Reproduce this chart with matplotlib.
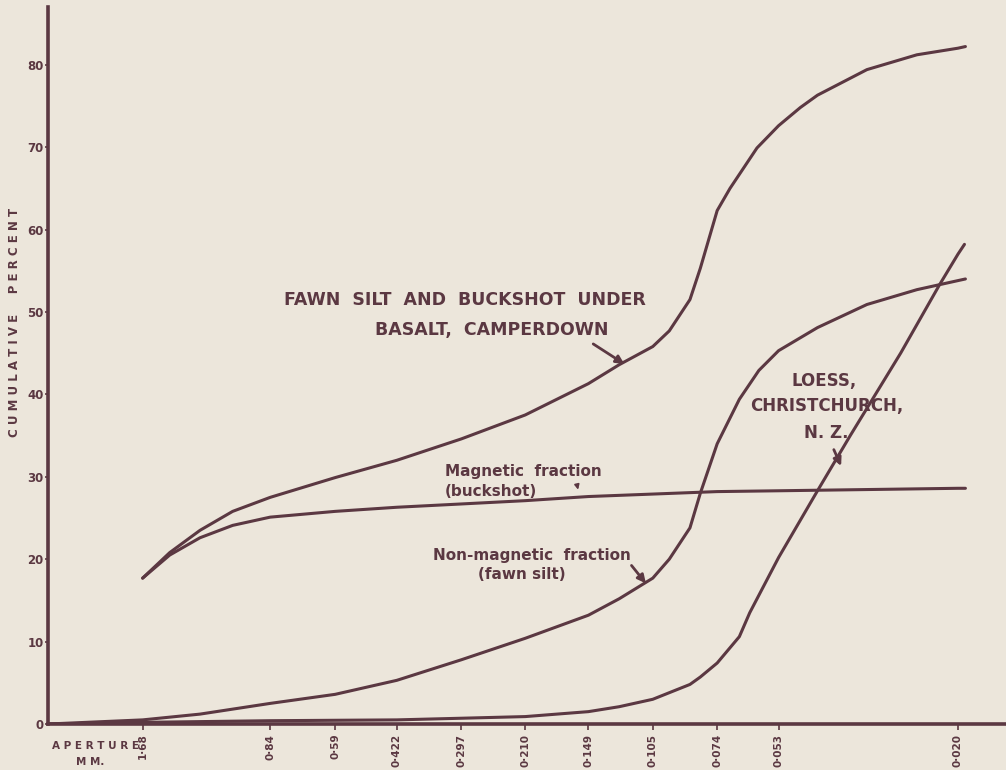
import matplotlib
matplotlib.use("Agg")
import matplotlib.pyplot as plt

# sieve apertures (mm) shown on the x axis
tick_apertures = [1.68, 0.84, 0.59, 0.422, 0.297, 0.210, 0.149, 0.105, 0.074, 0.053, 0.020]
tick_labels = ["1·68", "0·84", "0·59", "0·422", "0·297", "0·210", "0·149", "0·105", "0·074", "0·053", "0·020"]

# fawn silt and buckshot under basalt, Camperdown
fawn_x = [1.68, 1.45, 1.23, 1.03, 0.84, 0.59, 0.422, 0.297, 0.210, 0.149, 0.126, 0.105,
          0.096, 0.0858, 0.0811, 0.074, 0.0690, 0.0596, 0.053, 0.0471, 0.0429, 0.0328,
          0.025, 0.020, 0.0192]
fawn_y = [17.7, 20.8, 23.5, 25.8, 27.5, 29.9, 32.0, 34.6, 37.5, 41.3, 43.6, 45.8,
          47.7, 51.5, 55.3, 62.3, 65.0, 69.9, 72.6, 74.8, 76.3, 79.4,
          81.2, 82.0, 82.2]

# magnetic fraction (buckshot)
mag_x = [1.68, 1.45, 1.23, 1.03, 0.84, 0.59, 0.422, 0.297, 0.210, 0.149, 0.105, 0.074, 0.053, 0.020, 0.0192]
mag_y = [17.7, 20.5, 22.6, 24.1, 25.1, 25.8, 26.3, 26.7, 27.1, 27.6, 27.9, 28.2, 28.3, 28.6, 28.6]

# non-magnetic fraction (fawn silt)
nonmag_x = [2.8, 1.68, 1.23, 0.84, 0.59, 0.422, 0.297, 0.210, 0.149, 0.126, 0.105, 0.096,
            0.0858, 0.0811, 0.074, 0.0656, 0.0590, 0.053, 0.0429, 0.0328, 0.025, 0.020, 0.0192]
nonmag_y = [0.0, 0.5, 1.2, 2.5, 3.6, 5.3, 7.8, 10.4, 13.2, 15.2, 17.7, 20.0,
            23.8, 28.0, 34.0, 39.4, 42.9, 45.3, 48.1, 50.9, 52.7, 53.8, 54.0]

# loess, Christchurch, N.Z.
loess_x = [2.8, 1.68, 0.84, 0.422, 0.297, 0.210, 0.149, 0.126, 0.105, 0.0858, 0.0811,
           0.074, 0.0656, 0.062, 0.053, 0.0429, 0.0359, 0.0273, 0.0221, 0.020, 0.0193]
loess_y = [0.0, 0.2, 0.4, 0.5, 0.7, 0.9, 1.5, 2.1, 3.0, 4.8, 5.7,
           7.4, 10.6, 13.5, 20.2, 28.3, 35.0, 45.0, 53.3, 57.0, 58.2]

ink = "#5b3842"
paper = "#ece6db"

fig = plt.figure(figsize=(10.06, 7.70), dpi=100, facecolor=paper)
ax = fig.add_axes([48 / 1006, 46 / 770, 958 / 1006, 717 / 770])
ax.set_facecolor(paper)

lw = 2.2
for xs, ys in [(fawn_x, fawn_y), (mag_x, mag_y), (nonmag_x, nonmag_y), (loess_x, loess_y)]:
    ax.plot(xs, ys, color=ink, lw=lw, solid_capstyle="round", solid_joinstyle="round")

ax.set_xscale("log")
ax.set_xlim(2.81, 0.0154)
ax.set_ylim(0, 87)

for s in ["top", "right"]:
    ax.spines[s].set_visible(False)
for s in ["left", "bottom"]:
    ax.spines[s].set_color(ink)
    ax.spines[s].set_linewidth(2.6)

ax.set_xticks(tick_apertures)
ax.set_xticklabels(tick_labels, rotation=90, fontsize=7.5, fontweight="bold", color=ink)
ax.minorticks_off()
ax.tick_params(axis="x", direction="out", length=4, width=1.2, color=ink, pad=3)

ax.set_yticks([0, 10, 20, 30, 40, 50, 60, 70, 80])
ax.set_yticklabels(["0", "10", "20", "30", "40", "50", "60", "70", "80"],
                   fontsize=8.5, fontweight="bold", color=ink)
ax.tick_params(axis="y", direction="out", length=2, width=1.2, color=ink, pad=1)

fig.text(15 / 1006, 1 - 322 / 770, "C U M U L A T I V E     P E R C E N T", rotation=90,
         ha="center", va="center", fontsize=8.5, fontweight="bold", color=ink)
fig.text(95 / 1006, 1 - 746 / 770, "A P E R T U R E", ha="center", va="center",
         fontsize=7.5, fontweight="bold", color=ink)
fig.text(90 / 1006, 1 - 762 / 770, "M M.", ha="center", va="center",
         fontsize=7.5, fontweight="bold", color=ink)

# annotations
tkw = dict(color=ink, fontweight="bold", va="center")
ax.text(0.292, 51.5, "FAWN  SILT  AND  BUCKSHOT  UNDER", fontsize=12.5, ha="center", **tkw)
ax.text(0.252, 47.8, "BASALT,  CAMPERDOWN", fontsize=12.5, ha="center", **tkw)
ax.annotate("", xy=(0.121, 43.5), xytext=(0.147, 46.3),
            arrowprops=dict(arrowstyle="-|>", color=ink, lw=2, mutation_scale=12))

ax.text(0.325, 30.6, "Magnetic  fraction", fontsize=11, ha="left", **tkw)
ax.text(0.325, 28.2, "(buckshot)", fontsize=11, ha="left", **tkw)
ax.annotate("", xy=(0.157, 28.1), xytext=(0.159, 29.3),
            arrowprops=dict(arrowstyle="-|>", color=ink, lw=1.2, mutation_scale=7))

ax.text(0.203, 20.5, "Non-magnetic  fraction", fontsize=11, ha="center", **tkw)
ax.text(0.214, 18.1, "(fawn silt)", fontsize=11, ha="center", **tkw)
ax.annotate("", xy=(0.108, 16.8), xytext=(0.119, 19.5),
            arrowprops=dict(arrowstyle="-|>", color=ink, lw=2, mutation_scale=12))

ax.text(0.0414, 41.6, "LOESS,", fontsize=12, ha="center", **tkw)
ax.text(0.0408, 38.6, "CHRISTCHURCH,", fontsize=12, ha="center", **tkw)
ax.text(0.0408, 35.3, "N. Z.", fontsize=12, ha="center", **tkw)
ax.annotate("", xy=(0.0375, 31.0), xytext=(0.0395, 33.6),
            arrowprops=dict(arrowstyle="-|>", color=ink, lw=2, mutation_scale=12))

fig.savefig("out.png", dpi=100, facecolor=paper)
